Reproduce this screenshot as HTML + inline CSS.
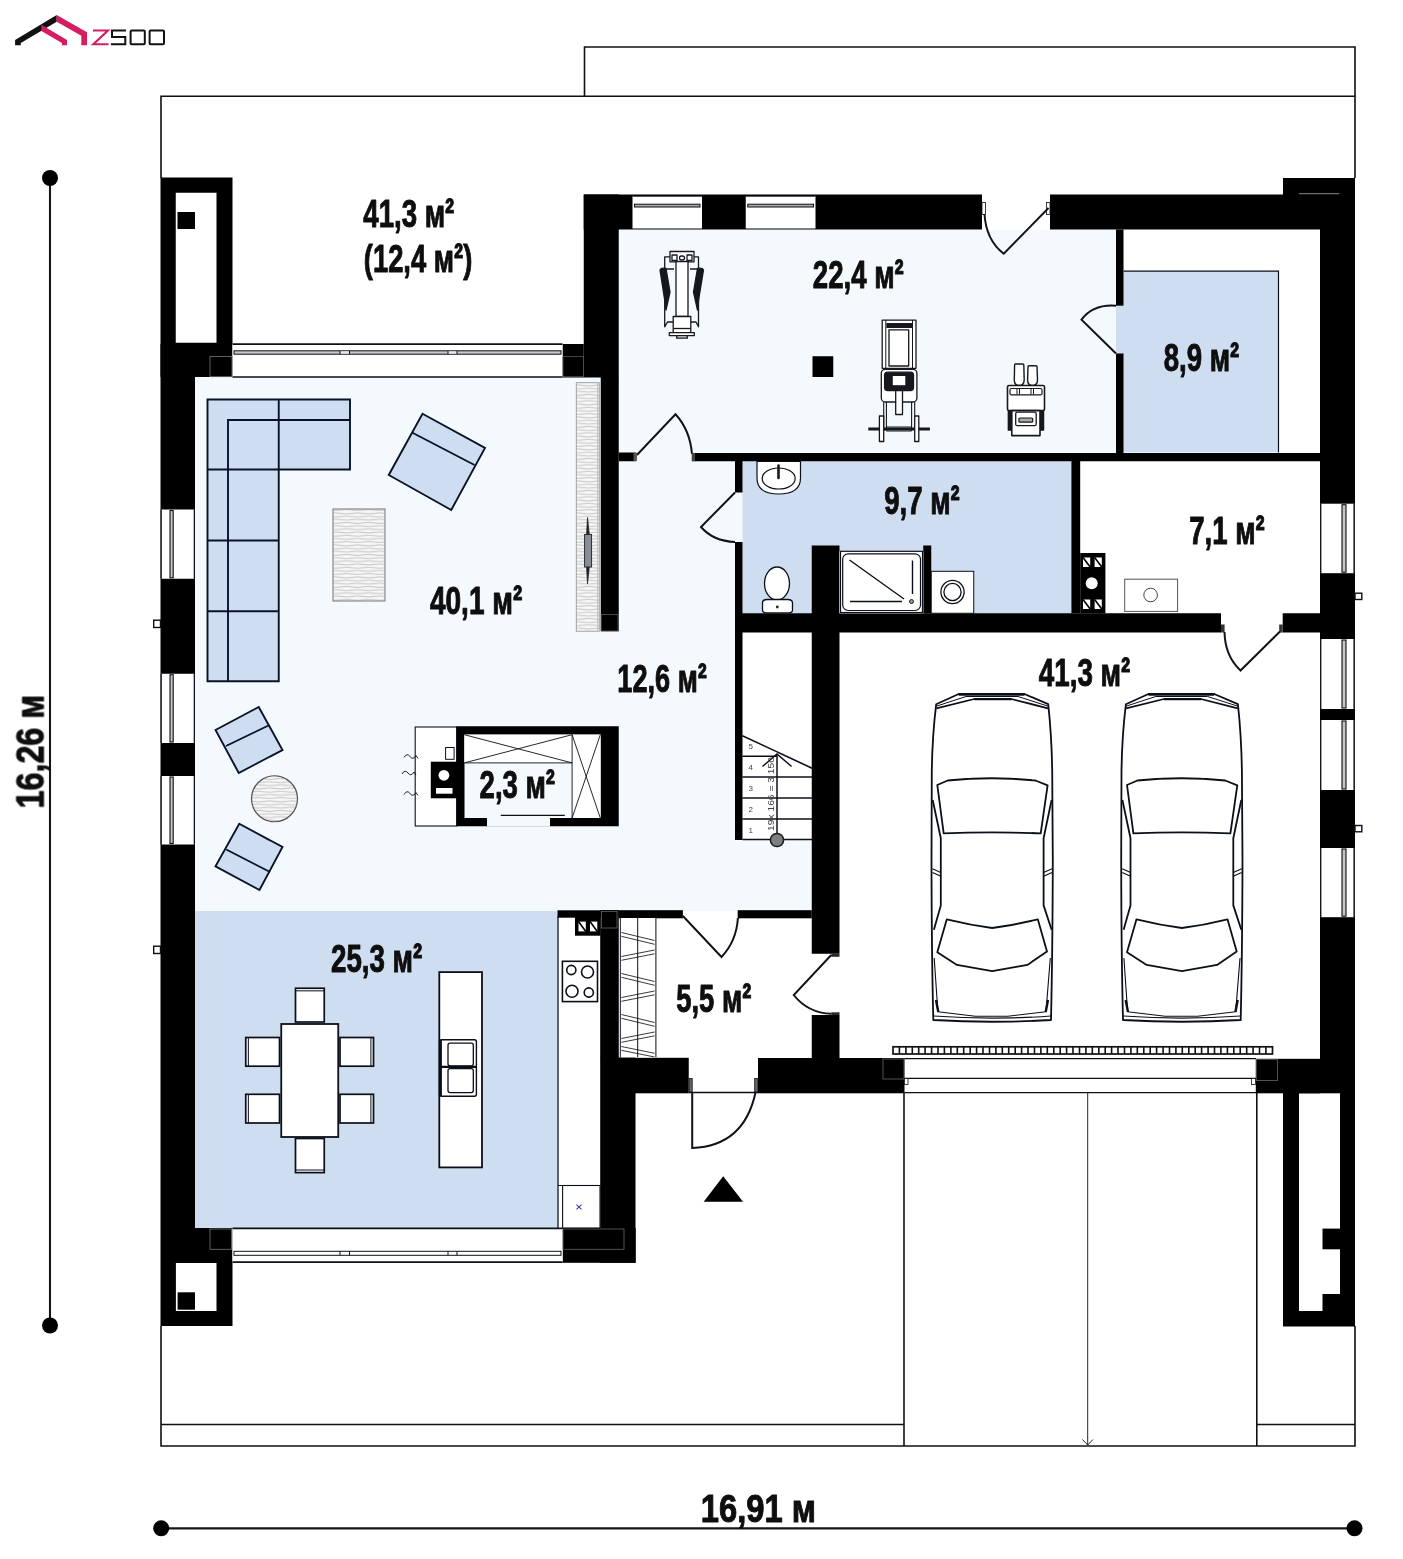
<!DOCTYPE html>
<html><head><meta charset="utf-8"><title>Plan</title>
<style>
html,body{margin:0;padding:0;background:#fff;}
body{width:1403px;height:1559px;overflow:hidden;font-family:"Liberation Sans",sans-serif;}
svg{display:block}
svg text{font-family:"Liberation Sans",sans-serif;font-weight:bold;fill:#0d0d0d}
</style></head><body>
<svg width="1403" height="1559" viewBox="0 0 1403 1559">
<g fill="none" stroke="#101010" stroke-width="1.6">
<path d="M161 178 V96.3 H1355 V178"/>
<path d="M584.5 96.3 V47 H1355 V96.3"/>
<path d="M161 1326 V1446 H1355 V1326"/>
<path d="M161 1424.5 H904"/>
<path d="M1256.8 1424.5 H1355"/>
<path d="M904 1092.5 V1446"/>
<path d="M1256.8 1093 V1446"/>
</g>
<line x1="1087.70" y1="1093.00" x2="1087.70" y2="1445.00" stroke="#0b0f1a" stroke-width="0.9" />
<path d="M1082.5 1439.5 L1087.7 1445 L1093 1439.5" fill="none" stroke="#0b0f1a" stroke-width="0.9"/>
<rect x="195.00" y="377.50" width="616.75" height="533.50" fill="#f4f9fd" />
<rect x="618.75" y="229.50" width="497.25" height="223.50" fill="#f4f9fd" />
<rect x="195.00" y="911.00" width="362.50" height="317.00" fill="#cedef0" />
<rect x="557.50" y="916.00" width="43.25" height="312.00" fill="#fff" />
<rect x="618.75" y="918.00" width="193.00" height="140.00" fill="#fff" />
<rect x="742.50" y="632.00" width="69.25" height="208.00" fill="#fff" />
<rect x="742.50" y="461.25" width="328.90" height="152.00" fill="#cedef0" />
<rect x="1116.00" y="271.20" width="162.50" height="181.20" fill="#cedef0" />
<path d="M1123.5 271.2 H1278.5 V452.4" fill="none" stroke="#0b0f1a" stroke-width="1.2"/>
<rect x="160.50" y="177.50" width="72.00" height="199.50" fill="#000" />
<rect x="175.75" y="192.75" width="40.75" height="150.00" fill="#fff" />
<rect x="177.50" y="212.00" width="17.50" height="17.00" fill="#000" />
<rect x="160.50" y="344.00" width="34.50" height="884.00" fill="#000" />
<rect x="160.50" y="1228.00" width="72.00" height="98.00" fill="#000" />
<rect x="175.90" y="1263.00" width="40.60" height="48.00" fill="#fff" />
<rect x="177.60" y="1292.30" width="17.40" height="17.40" fill="#000" />
<rect x="583.75" y="194.50" width="35.00" height="183.00" fill="#000" />
<rect x="562.50" y="344.00" width="21.25" height="33.50" fill="#000" />
<rect x="600.75" y="377.00" width="18.00" height="254.25" fill="#000" />
<rect x="583.75" y="194.50" width="771.25" height="35.00" fill="#000" />
<rect x="1283.00" y="178.00" width="72.00" height="17.00" fill="#000" />
<rect x="1320.00" y="194.50" width="35.00" height="898.80" fill="#000" />
<rect x="1283.00" y="1093.00" width="72.00" height="233.50" fill="#000" />
<rect x="1299.00" y="1093.30" width="41.00" height="217.70" fill="#fff" />
<rect x="1322.50" y="1228.60" width="21.90" height="20.70" fill="#000" />
<rect x="1322.50" y="1294.00" width="21.90" height="21.40" fill="#000" />
<rect x="632.50" y="196.00" width="69.50" height="32.50" fill="#fff" />
<rect x="745.75" y="196.00" width="69.75" height="32.50" fill="#fff" />
<rect x="982.00" y="194.00" width="68.00" height="36.00" fill="#fff" />
<rect x="1116.00" y="229.50" width="7.50" height="76.20" fill="#000" />
<rect x="1116.00" y="353.50" width="7.50" height="99.50" fill="#000" />
<rect x="692.50" y="453.00" width="627.50" height="8.25" fill="#000" />
<rect x="618.75" y="452.50" width="17.50" height="8.75" fill="#000" />
<rect x="735.00" y="461.00" width="7.50" height="31.50" fill="#000" />
<rect x="735.00" y="542.00" width="7.50" height="298.00" fill="#000" />
<rect x="735.00" y="613.25" width="486.00" height="19.25" fill="#000" />
<rect x="1282.70" y="613.25" width="37.30" height="19.25" fill="#000" />
<rect x="811.75" y="545.50" width="27.75" height="408.25" fill="#000" />
<rect x="811.75" y="1015.00" width="27.75" height="43.00" fill="#000" />
<rect x="923.25" y="545.50" width="8.00" height="67.75" fill="#000" />
<rect x="1071.40" y="461.00" width="8.80" height="152.25" fill="#000" />
<rect x="456.25" y="726.25" width="162.50" height="100.00" fill="#000" />
<rect x="464.50" y="734.50" width="136.25" height="83.50" fill="#f4f9fd" />
<rect x="487.00" y="817.50" width="63.00" height="9.00" fill="#f4f9fd" />
<rect x="557.50" y="910.30" width="61.25" height="7.40" fill="#000" />
<rect x="600.20" y="910.00" width="18.55" height="148.00" fill="#000" />
<rect x="600.20" y="1057.50" width="35.30" height="205.30" fill="#000" />
<rect x="618.75" y="1057.80" width="70.00" height="35.50" fill="#000" />
<rect x="562.60" y="1228.00" width="73.10" height="34.80" fill="#000" />
<rect x="618.75" y="910.20" width="64.15" height="8.10" fill="#000" />
<rect x="737.70" y="910.20" width="74.05" height="8.10" fill="#000" />
<rect x="758.00" y="1058.00" width="146.50" height="35.30" fill="#000" />
<rect x="1255.80" y="1058.80" width="64.20" height="34.50" fill="#000" />
<rect x="161.20" y="509.50" width="33.10" height="69.25" fill="#fff" />
<line x1="161.20" y1="509.50" x2="161.20" y2="578.75" stroke="#0b0f1a" stroke-width="1.2" />
<line x1="194.30" y1="509.50" x2="194.30" y2="578.75" stroke="#0b0f1a" stroke-width="1.2" />
<rect x="170.00" y="510.50" width="3.20" height="67.25" fill="#c4c4c4" stroke="#0b0f1a" stroke-width="1.1"/>
<rect x="161.20" y="673.75" width="33.10" height="69.25" fill="#fff" />
<line x1="161.20" y1="673.75" x2="161.20" y2="743.00" stroke="#0b0f1a" stroke-width="1.2" />
<line x1="194.30" y1="673.75" x2="194.30" y2="743.00" stroke="#0b0f1a" stroke-width="1.2" />
<rect x="170.00" y="674.75" width="3.20" height="67.25" fill="#c4c4c4" stroke="#0b0f1a" stroke-width="1.1"/>
<rect x="161.20" y="776.00" width="33.10" height="68.50" fill="#fff" />
<line x1="161.20" y1="776.00" x2="161.20" y2="844.50" stroke="#0b0f1a" stroke-width="1.2" />
<line x1="194.30" y1="776.00" x2="194.30" y2="844.50" stroke="#0b0f1a" stroke-width="1.2" />
<rect x="170.00" y="777.00" width="3.20" height="66.50" fill="#c4c4c4" stroke="#0b0f1a" stroke-width="1.1"/>
<rect x="1320.80" y="503.70" width="33.50" height="69.50" fill="#fff" />
<line x1="1320.80" y1="503.70" x2="1320.80" y2="573.20" stroke="#0b0f1a" stroke-width="1.2" />
<line x1="1354.00" y1="503.70" x2="1354.00" y2="573.20" stroke="#0b0f1a" stroke-width="1.2" />
<rect x="1342.00" y="504.70" width="4.00" height="67.50" fill="#c4c4c4" stroke="#0b0f1a" stroke-width="1.1"/>
<rect x="1320.80" y="639.00" width="33.50" height="70.00" fill="#fff" />
<line x1="1320.80" y1="639.00" x2="1320.80" y2="709.00" stroke="#0b0f1a" stroke-width="1.2" />
<line x1="1354.00" y1="639.00" x2="1354.00" y2="709.00" stroke="#0b0f1a" stroke-width="1.2" />
<rect x="1342.00" y="640.00" width="4.00" height="68.00" fill="#c4c4c4" stroke="#0b0f1a" stroke-width="1.1"/>
<rect x="1320.80" y="720.00" width="33.50" height="70.00" fill="#fff" />
<line x1="1320.80" y1="720.00" x2="1320.80" y2="790.00" stroke="#0b0f1a" stroke-width="1.2" />
<line x1="1354.00" y1="720.00" x2="1354.00" y2="790.00" stroke="#0b0f1a" stroke-width="1.2" />
<rect x="1342.00" y="721.00" width="4.00" height="68.00" fill="#c4c4c4" stroke="#0b0f1a" stroke-width="1.1"/>
<rect x="1320.80" y="848.00" width="33.50" height="69.20" fill="#fff" />
<line x1="1320.80" y1="848.00" x2="1320.80" y2="917.20" stroke="#0b0f1a" stroke-width="1.2" />
<line x1="1354.00" y1="848.00" x2="1354.00" y2="917.20" stroke="#0b0f1a" stroke-width="1.2" />
<rect x="1342.00" y="849.00" width="4.00" height="67.20" fill="#c4c4c4" stroke="#0b0f1a" stroke-width="1.1"/>
<rect x="153.70" y="620.20" width="6.80" height="7.30" fill="#fff" stroke="#0b0f1a" stroke-width="1.4"/>
<rect x="153.70" y="946.20" width="6.80" height="7.30" fill="#fff" stroke="#0b0f1a" stroke-width="1.4"/>
<rect x="1355.00" y="593.20" width="6.80" height="6.30" fill="#fff" stroke="#0b0f1a" stroke-width="1.4"/>
<rect x="1355.00" y="825.50" width="6.80" height="6.30" fill="#fff" stroke="#0b0f1a" stroke-width="1.4"/>
<rect x="232.50" y="344.00" width="330.00" height="33.00" fill="#fff" />
<line x1="232.50" y1="344.20" x2="562.50" y2="344.20" stroke="#0b0f1a" stroke-width="1.8" />
<rect x="234.00" y="350.80" width="327.00" height="3.40" fill="#c8c8c8" stroke="#0b0f1a" stroke-width="1"/>
<rect x="340.00" y="351.30" width="9.50" height="2.40" fill="#e8e8e8" />
<rect x="448.00" y="351.30" width="9.00" height="2.40" fill="#e8e8e8" />
<line x1="340.00" y1="351.00" x2="340.00" y2="354.00" stroke="#0b0f1a" stroke-width="1" />
<line x1="349.50" y1="351.00" x2="349.50" y2="354.00" stroke="#0b0f1a" stroke-width="1" />
<line x1="448.00" y1="351.00" x2="448.00" y2="354.00" stroke="#0b0f1a" stroke-width="1" />
<line x1="457.00" y1="351.00" x2="457.00" y2="354.00" stroke="#0b0f1a" stroke-width="1" />
<line x1="232.50" y1="377.00" x2="562.50" y2="377.00" stroke="#0b0f1a" stroke-width="1.7" />
<rect x="210.00" y="356.50" width="22.00" height="20.20" fill="none" stroke="#777" stroke-width="0.8"/>
<rect x="563.00" y="356.50" width="20.50" height="20.20" fill="none" stroke="#555" stroke-width="0.8"/>
<rect x="232.50" y="1228.00" width="330.10" height="34.80" fill="#fff" />
<line x1="232.50" y1="1228.30" x2="562.60" y2="1228.30" stroke="#0b0f1a" stroke-width="1.7" />
<rect x="234.00" y="1251.30" width="327.00" height="4.00" fill="#fff" stroke="#0b0f1a" stroke-width="1"/>
<line x1="340.00" y1="1251.30" x2="340.00" y2="1255.30" stroke="#0b0f1a" stroke-width="1" />
<line x1="349.50" y1="1251.30" x2="349.50" y2="1255.30" stroke="#0b0f1a" stroke-width="1" />
<line x1="448.00" y1="1251.30" x2="448.00" y2="1255.30" stroke="#0b0f1a" stroke-width="1" />
<line x1="457.00" y1="1251.30" x2="457.00" y2="1255.30" stroke="#0b0f1a" stroke-width="1" />
<line x1="232.50" y1="1262.20" x2="562.60" y2="1262.20" stroke="#0b0f1a" stroke-width="1.7" />
<rect x="210.00" y="1229.00" width="21.50" height="20.30" fill="none" stroke="#777" stroke-width="0.8"/>
<rect x="563.00" y="1229.00" width="61.00" height="20.30" fill="none" stroke="#666" stroke-width="0.8"/>
<line x1="632.50" y1="196.20" x2="702.00" y2="196.20" stroke="#0b0f1a" stroke-width="1" />
<rect x="634.50" y="204.20" width="65.50" height="2.80" fill="#aaa" stroke="#0b0f1a" stroke-width="1"/>
<line x1="745.75" y1="196.20" x2="815.50" y2="196.20" stroke="#0b0f1a" stroke-width="1" />
<rect x="747.75" y="204.20" width="65.75" height="2.80" fill="#aaa" stroke="#0b0f1a" stroke-width="1"/>
<line x1="50.00" y1="178.00" x2="50.00" y2="1325.50" stroke="#161616" stroke-width="2.1" />
<circle cx="50" cy="178" r="8" fill="#000"/><circle cx="50" cy="1325.5" r="8" fill="#000"/>
<line x1="161.00" y1="1528.40" x2="1354.50" y2="1528.40" stroke="#161616" stroke-width="2.1" />
<circle cx="161.2" cy="1528.3" r="8" fill="#000"/><circle cx="1354.5" cy="1528.3" r="8" fill="#000"/>
<polygon points="723.2,1176.2 703.7,1201.7 743,1201.7" fill="#000"/>
<g opacity="0.995" stroke="#0d0d0d" stroke-width="1.0" stroke-linejoin="round">
<text x="363.30" y="227.20" font-size="39.6" textLength="91.00" lengthAdjust="spacingAndGlyphs" >41,3 м²</text>
<text x="363.80" y="272.30" font-size="39.6" textLength="108.50" lengthAdjust="spacingAndGlyphs" >(12,4 м²)</text>
<text x="812.80" y="287.90" font-size="39.6" textLength="91.00" lengthAdjust="spacingAndGlyphs" >22,4 м²</text>
<text x="1163.80" y="371.40" font-size="39.6" textLength="75.50" lengthAdjust="spacingAndGlyphs" >8,9 м²</text>
<text x="430.00" y="614.00" font-size="39.6" textLength="92.20" lengthAdjust="spacingAndGlyphs" >40,1 м²</text>
<text x="617.30" y="692.40" font-size="39.6" textLength="89.50" lengthAdjust="spacingAndGlyphs" >12,6 м²</text>
<text x="884.30" y="513.90" font-size="39.6" textLength="75.50" lengthAdjust="spacingAndGlyphs" >9,7 м²</text>
<text x="1189.30" y="543.90" font-size="39.6" textLength="75.50" lengthAdjust="spacingAndGlyphs" >7,1 м²</text>
<text x="1038.80" y="685.90" font-size="39.6" textLength="91.50" lengthAdjust="spacingAndGlyphs" >41,3 м²</text>
<text x="331.10" y="971.60" font-size="39.6" textLength="91.20" lengthAdjust="spacingAndGlyphs" >25,3 м²</text>
<text x="676.30" y="1012.40" font-size="39.6" textLength="75.00" lengthAdjust="spacingAndGlyphs" >5,5 м²</text>
<text x="479.60" y="798.30" font-size="39.6" textLength="75.40" lengthAdjust="spacingAndGlyphs" >2,3 м²</text>
<text x="700.80" y="1522.40" font-size="39.6" textLength="115.20" lengthAdjust="spacingAndGlyphs" >16,91 м</text>
<text transform="translate(43.5,808.5) rotate(-90)" font-size="39.6" textLength="113.7" lengthAdjust="spacingAndGlyphs">16,26 м</text>
</g>
<path d="M207.5 399.5 H350 V469.5 H278.75 V681.25 H207.5 Z" fill="#cedef0" stroke="#0a1228" stroke-width="1.9"/>
<path d="M228 681.25 V420 H350 M278.75 399.5 V469.5 M207.5 469.5 H278.75 M207.5 540.5 H278.75 M207.5 611.25 H278.75" fill="none" stroke="#0a1228" stroke-width="1.9"/>
<polygon points="422.50,413.75 485.00,448.00 451.25,510.00 388.75,475.00" fill="#cedef0" stroke="#0a1228" stroke-width="1.9" stroke-linejoin="miter" />
<line x1="412.00" y1="432.50" x2="474.50" y2="465.00" stroke="#0a1228" stroke-width="1.9" />
<polygon points="215.50,730.00 258.75,707.00 282.50,750.00 238.75,773.00" fill="#cedef0" stroke="#0a1228" stroke-width="1.9" stroke-linejoin="miter" />
<line x1="226.00" y1="746.00" x2="269.50" y2="725.00" stroke="#0a1228" stroke-width="1.9" />
<polygon points="239.25,823.75 282.50,847.00 259.50,890.00 215.50,866.25" fill="#cedef0" stroke="#0a1228" stroke-width="1.9" stroke-linejoin="miter" />
<line x1="226.25" y1="849.50" x2="270.00" y2="872.00" stroke="#0a1228" stroke-width="1.9" />
<defs><pattern id="hz" width="22" height="6.4" patternUnits="userSpaceOnUse"><rect width="22" height="6.4" fill="#f6f6f6"/><path d="M0 1.3 Q5.5 0.3 11 1.3 T22 1.3 M0 4.5 Q5.5 5.4 11 4.5 T22 4.5" stroke="#bdbdbd" stroke-width="0.9" fill="none"/></pattern></defs>
<rect x="333" y="509" width="52" height="92" fill="url(#hz)" stroke="#8a8a8a" stroke-width="1.2"/>
<circle cx="274.5" cy="798.75" r="23" fill="url(#hz)" stroke="#555" stroke-width="1.2"/>
<rect x="576.3" y="382.7" width="23" height="248.5" fill="url(#hz)" stroke="#9a9a9a" stroke-width="0.9"/>
<line x1="597.60" y1="383.00" x2="597.60" y2="631.00" stroke="#aaa" stroke-width="0.6" />
<path d="M587.5 517.5 L589.3 534.5 L589.3 567 L587.5 583.75 L586.6 567 L586.6 534.5 Z" fill="#222" stroke="#222" stroke-width="0.8"/>
<rect x="584.6" y="534.5" width="7" height="32.5" fill="#8a8d96" stroke="#222" stroke-width="0.9"/>
<rect x="601.2" y="614.5" width="16.8" height="16.5" fill="#000" stroke="#666" stroke-width="0.7"/>
<rect x="415.20" y="727.00" width="41.40" height="99.00" rx="0" fill="#fff" stroke="#0b0f1a" stroke-width="1.1"/>
<rect x="464.30" y="734.70" width="107.80" height="28.20" fill="#fff" />
<rect x="572.10" y="734.70" width="28.20" height="83.30" fill="#fff" />
<path d="M464.3 734.7 L572.1 762.9 M464.3 762.9 L572.1 734.7 M464.3 762.9 H572.1 M572.1 734.7 V818 M572.1 734.7 L600.3 818 M600.3 734.7 L572.1 818" fill="none" stroke="#0b0f1a" stroke-width="0.9"/>
<line x1="500.80" y1="815.30" x2="564.80" y2="815.30" stroke="#0b0f1a" stroke-width="1.3" />
<rect x="430.80" y="761.70" width="26.20" height="36.60" fill="#000" />
<circle cx="443.9" cy="775.3" r="5.4" fill="#fff"/>
<rect x="436.00" y="788.00" width="16.50" height="5.70" fill="#fff" />
<rect x="445.60" y="747.50" width="8.50" height="11.80" rx="0" fill="#fff" stroke="#0b0f1a" stroke-width="1"/>
<path d="M404 757.5 q3 -5 6 -1 t6 -1 l2 3" fill="none" stroke="#0b0f1a" stroke-width="0.9"/>
<path d="M402 774 q3 -5 6 -1 t6 -1 l2 3" fill="none" stroke="#0b0f1a" stroke-width="0.9"/>
<path d="M404 794.5 q3 -5 6 -1 t6 -1 l2 3" fill="none" stroke="#0b0f1a" stroke-width="0.9"/>
<rect x="281.25" y="1024.00" width="57.00" height="113.00" rx="0" fill="#fff" stroke="#0b0f1a" stroke-width="1.8"/>
<rect x="295.50" y="988.25" width="28.75" height="33.75" rx="0" fill="#fff" stroke="#0b0f1a" stroke-width="1.7"/>
<line x1="295.50" y1="990.85" x2="324.25" y2="990.85" stroke="#0b0f1a" stroke-width="1" />
<rect x="295.50" y="1138.50" width="28.75" height="34.10" rx="0" fill="#fff" stroke="#0b0f1a" stroke-width="1.7"/>
<line x1="295.50" y1="1170.00" x2="324.25" y2="1170.00" stroke="#0b0f1a" stroke-width="1" />
<rect x="245.75" y="1037.50" width="33.75" height="28.70" rx="0" fill="#fff" stroke="#0b0f1a" stroke-width="1.7"/>
<line x1="248.35" y1="1037.50" x2="248.35" y2="1066.20" stroke="#0b0f1a" stroke-width="1" />
<rect x="245.75" y="1094.30" width="33.75" height="28.70" rx="0" fill="#fff" stroke="#0b0f1a" stroke-width="1.7"/>
<line x1="248.35" y1="1094.30" x2="248.35" y2="1123.00" stroke="#0b0f1a" stroke-width="1" />
<rect x="340.00" y="1037.50" width="33.50" height="28.70" rx="0" fill="#fff" stroke="#0b0f1a" stroke-width="1.7"/>
<line x1="370.90" y1="1037.50" x2="370.90" y2="1066.20" stroke="#0b0f1a" stroke-width="1" />
<rect x="340.00" y="1094.30" width="33.50" height="28.70" rx="0" fill="#fff" stroke="#0b0f1a" stroke-width="1.7"/>
<line x1="370.90" y1="1094.30" x2="370.90" y2="1123.00" stroke="#0b0f1a" stroke-width="1" />
<rect x="439.30" y="972.10" width="42.70" height="195.30" rx="0" fill="#fff" stroke="#0b0f1a" stroke-width="1.8"/>
<rect x="439.50" y="1039.70" width="36.90" height="56.50" rx="2" fill="#fff" stroke="#0b0f1a" stroke-width="1.4"/>
<rect x="448.00" y="1043.20" width="25.30" height="22.60" rx="2" fill="#fff" stroke="#0b0f1a" stroke-width="1.3"/>
<rect x="448.00" y="1068.60" width="25.30" height="24.00" rx="2" fill="#fff" stroke="#0b0f1a" stroke-width="1.3"/>
<line x1="439.50" y1="1066.80" x2="476.40" y2="1066.80" stroke="#0b0f1a" stroke-width="2.2" />
<line x1="440.60" y1="1040.00" x2="440.60" y2="1096.00" stroke="#0b0f1a" stroke-width="2.6" />
<line x1="558.00" y1="916.00" x2="558.00" y2="1228.00" stroke="#0b0f1a" stroke-width="1.3" />
<rect x="562.40" y="961.30" width="35.10" height="40.30" rx="0" fill="#fff" stroke="#0b0f1a" stroke-width="1.6"/>
<circle cx="571.3" cy="970" r="4.6" fill="none" stroke="#0b0f1a" stroke-width="1.6"/>
<circle cx="587.5" cy="972" r="6" fill="none" stroke="#0b0f1a" stroke-width="1.6"/>
<circle cx="572" cy="991.3" r="6" fill="none" stroke="#0b0f1a" stroke-width="1.6"/>
<circle cx="588.8" cy="992.5" r="4.6" fill="none" stroke="#0b0f1a" stroke-width="1.6"/>
<rect x="575.00" y="917.00" width="25.50" height="18.70" fill="#000" />
<rect x="578.50" y="921.60" width="7.30" height="9.80" fill="#fff" />
<line x1="578.50" y1="921.60" x2="585.80" y2="931.40" stroke="#000" stroke-width="1.6" />
<rect x="590.00" y="921.60" width="7.30" height="9.80" fill="#fff" />
<line x1="590.00" y1="921.60" x2="597.30" y2="931.40" stroke="#000" stroke-width="1.6" />
<rect x="601.3" y="911.3" width="15.7" height="16.7" fill="#000" stroke="#777" stroke-width="0.7"/>
<rect x="562.60" y="1185.50" width="37.40" height="42.50" rx="0" fill="#fff" stroke="#0b0f1a" stroke-width="1.1"/>
<line x1="558.00" y1="1185.50" x2="600.00" y2="1185.50" stroke="#0b0f1a" stroke-width="1.1" />
<path d="M576.5 1204.7 L581.5 1209.3 M581.5 1204.7 L576.5 1209.3" stroke="#3443a0" stroke-width="1.1" fill="none"/>
<rect x="620.30" y="918.00" width="35.60" height="139.20" fill="#fff" />
<line x1="621.40" y1="932.50" x2="654.60" y2="940.50" stroke="#3a3a3a" stroke-width="1" />
<line x1="621.40" y1="956.50" x2="654.60" y2="950.00" stroke="#3a3a3a" stroke-width="1" />
<line x1="621.40" y1="936.30" x2="654.60" y2="944.30" stroke="#3a3a3a" stroke-width="1" />
<line x1="621.40" y1="960.30" x2="654.60" y2="953.80" stroke="#3a3a3a" stroke-width="1" />
<line x1="621.40" y1="973.50" x2="654.60" y2="981.50" stroke="#3a3a3a" stroke-width="1" />
<line x1="621.40" y1="997.50" x2="654.60" y2="991.00" stroke="#3a3a3a" stroke-width="1" />
<line x1="621.40" y1="977.30" x2="654.60" y2="985.30" stroke="#3a3a3a" stroke-width="1" />
<line x1="621.40" y1="1001.30" x2="654.60" y2="994.80" stroke="#3a3a3a" stroke-width="1" />
<line x1="621.40" y1="1014.50" x2="654.60" y2="1022.50" stroke="#3a3a3a" stroke-width="1" />
<line x1="621.40" y1="1038.50" x2="654.60" y2="1032.00" stroke="#3a3a3a" stroke-width="1" />
<line x1="621.40" y1="1018.30" x2="654.60" y2="1026.30" stroke="#3a3a3a" stroke-width="1" />
<line x1="621.40" y1="1042.30" x2="654.60" y2="1035.80" stroke="#3a3a3a" stroke-width="1" />
<line x1="621.40" y1="1046.50" x2="654.60" y2="1053.30" stroke="#3a3a3a" stroke-width="1" />
<line x1="621.40" y1="1050.30" x2="654.60" y2="1057.00" stroke="#3a3a3a" stroke-width="1" />
<path d="M620.3 918 V1057.2 M637.7 918 V1057.2 M655.9 918 V1057.2" stroke="#0b0f1a" stroke-width="1" fill="none"/>
<path d="M757 461.5 V478 Q757 494 778.7 494 Q800.5 494 800.5 478 V461.5 Z" fill="#fff" stroke="#0b0f1a" stroke-width="1.2"/>
<ellipse cx="778.7" cy="478.5" rx="16.5" ry="10.5" fill="#fff" stroke="#0b0f1a" stroke-width="1.2"/>
<line x1="778.50" y1="465.50" x2="778.50" y2="478.00" stroke="#1a1a1a" stroke-width="2.6" stroke-linecap="round"/>
<ellipse cx="777" cy="583.5" rx="12.5" ry="16.5" fill="#fff" stroke="#0b0f1a" stroke-width="1.3"/>
<path d="M762.5 603 Q762.5 599.5 767 599.5 H787.5 Q792.5 599.5 792.5 603 V610 Q792.5 612.8 789 612.8 H766 Q762.5 612.8 762.5 610 Z" fill="#fff" stroke="#0b0f1a" stroke-width="1.3"/>
<circle cx="777.3" cy="607" r="1.4" fill="#222"/>
<rect x="839.50" y="551.30" width="83.75" height="61.95" fill="#fff" />
<rect x="840.50" y="551.30" width="82.00" height="61.20" rx="0" fill="#fff" stroke="#0b0f1a" stroke-width="1.2"/>
<rect x="842.70" y="553.80" width="77.80" height="56.70" rx="5.5" fill="#fff" stroke="#0b0f1a" stroke-width="1.2"/>
<path d="M849.5 560 L904 599 M912.5 560.5 V594 M850 601.5 H902" stroke="#0b0f1a" stroke-width="1.4" fill="none"/>
<circle cx="911.5" cy="601.5" r="2" fill="#999" stroke="#0b0f1a" stroke-width="0.9"/>
<rect x="931.25" y="571.30" width="42.50" height="41.95" rx="0" fill="#fff" stroke="#0b0f1a" stroke-width="1"/>
<circle cx="952.5" cy="592" r="11.6" fill="#fff" stroke="#0b0f1a" stroke-width="1.3"/><circle cx="952.5" cy="592" r="8.6" fill="#fff" stroke="#0b0f1a" stroke-width="1.3"/>
<rect x="1080.20" y="553.00" width="25.20" height="60.40" fill="#000" />
<circle cx="1091.7" cy="583.2" r="6" fill="#fff"/>
<rect x="1083.00" y="557.50" width="7.20" height="9.50" fill="#fff" />
<line x1="1083.00" y1="557.50" x2="1090.20" y2="567.00" stroke="#000" stroke-width="1.6" />
<rect x="1094.60" y="557.50" width="7.20" height="9.50" fill="#fff" />
<line x1="1094.60" y1="557.50" x2="1101.80" y2="567.00" stroke="#000" stroke-width="1.6" />
<rect x="1083.00" y="599.50" width="7.20" height="9.50" fill="#fff" />
<line x1="1083.00" y1="599.50" x2="1090.20" y2="609.00" stroke="#000" stroke-width="1.6" />
<rect x="1094.60" y="599.50" width="7.20" height="9.50" fill="#fff" />
<line x1="1094.60" y1="599.50" x2="1101.80" y2="609.00" stroke="#000" stroke-width="1.6" />
<rect x="1124.70" y="579.20" width="52.90" height="32.20" rx="0" fill="#fff" stroke="#555" stroke-width="1"/>
<circle cx="1150.6" cy="595" r="6.8" fill="#fff" stroke="#444" stroke-width="1"/>
<line x1="742.40" y1="777.00" x2="812.00" y2="777.00" stroke="#0b0f1a" stroke-width="1.5" />
<line x1="742.40" y1="798.10" x2="812.00" y2="798.10" stroke="#0b0f1a" stroke-width="1.5" />
<line x1="742.40" y1="819.10" x2="812.00" y2="819.10" stroke="#0b0f1a" stroke-width="1.5" />
<line x1="742.40" y1="839.60" x2="812.00" y2="839.60" stroke="#0b0f1a" stroke-width="1.5" />
<line x1="742.40" y1="756.20" x2="777.00" y2="756.20" stroke="#0b0f1a" stroke-width="1.5" />
<line x1="742.40" y1="735.70" x2="812.10" y2="768.20" stroke="#0b0f1a" stroke-width="1.5" />
<line x1="777.00" y1="754.00" x2="777.00" y2="834.00" stroke="#0b0f1a" stroke-width="1.5" />
<path d="M762.5 766.5 L777 754 L791.6 766.5" fill="none" stroke="#0b0f1a" stroke-width="1.5"/>
<circle cx="777" cy="840" r="6.6" fill="#7f7f7f" stroke="#1a1a1a" stroke-width="1.5"/>
<text x="748.5" y="832.5" font-size="8" style="font-weight:normal;fill:#444">1</text>
<text x="748.5" y="812" font-size="8" style="font-weight:normal;fill:#444">2</text>
<text x="748.5" y="791" font-size="8" style="font-weight:normal;fill:#444">3</text>
<text x="748.5" y="770.3" font-size="8" style="font-weight:normal;fill:#444">4</text>
<text x="748.5" y="749" font-size="8" style="font-weight:normal;fill:#444">5</text>
<text transform="translate(774,831) rotate(-90)" font-size="8.5" textLength="74" lengthAdjust="spacingAndGlyphs" style="font-weight:normal;fill:#444">19x 166 = 3 150</text>
<path d="M636.9 455 L675.5 414.2 Q690 430 692 454" fill="none" stroke="#10131c" stroke-width="2"/>
<rect x="633.50" y="453.00" width="3.40" height="8.00" fill="#555" />
<rect x="691.70" y="453.00" width="3.30" height="8.20" fill="#444" />
<rect x="982.00" y="202.50" width="3.50" height="12.00" fill="#fff" stroke="#0b0f1a" stroke-width="0.8"/>
<rect x="1046.50" y="202.50" width="3.50" height="12.00" fill="#fff" stroke="#0b0f1a" stroke-width="0.8"/>
<path d="M984.5 214 Q986 240 1003.75 253.75 L1048.5 208" fill="none" stroke="#10131c" stroke-width="2"/>
<path d="M1116 305.7 Q1093 304 1081.5 319.7 L1116 353.5" fill="none" stroke="#10131c" stroke-width="2"/>
<path d="M735 492.5 L701 527 Q713 541 735 542" fill="none" stroke="#10131c" stroke-width="2"/>
<rect x="1221.00" y="624.50" width="3.60" height="8.00" fill="#333" />
<rect x="1279.20" y="624.50" width="3.50" height="8.00" fill="#333" />
<path d="M1224.5 632 Q1225 656 1240.5 670.5 L1280 631.5" fill="none" stroke="#10131c" stroke-width="2"/>
<path d="M682.9 916 L721.5 957 Q736.5 941 737.9 918" fill="none" stroke="#10131c" stroke-width="2"/>
<path d="M831.25 955 L793.75 995 Q808 1013 831.25 1013.75" fill="none" stroke="#10131c" stroke-width="2"/>
<rect x="831.25" y="953.75" width="8.25" height="3.05" fill="#2a2a2a" />
<rect x="831.25" y="1012.30" width="8.25" height="2.90" fill="#2a2a2a" />
<line x1="688.75" y1="1092.40" x2="758.00" y2="1092.40" stroke="#0b0f1a" stroke-width="1.5" />
<path d="M692.2 1092.5 V1148 Q744 1146 755.5 1092.5" fill="none" stroke="#10131c" stroke-width="2"/>
<rect x="754.70" y="1078.50" width="3.10" height="13.50" fill="#666" stroke="#0b0f1a" stroke-width="0.8"/>
<rect x="689.20" y="1078.50" width="3.00" height="13.50" fill="#666" stroke="#0b0f1a" stroke-width="0.8"/>
<path d="M904.5 1058.6 H1256 M904.5 1078.4 H1256 M904.5 1092.6 H1256" stroke="#0b0f1a" stroke-width="1.4" fill="none"/>
<rect x="893" y="1046.8" width="379.5" height="7.2" fill="#fff" stroke="#111" stroke-width="1.7"/>
<path d="M899.4 1046.8 V1054 M905.9 1046.8 V1054 M912.3 1046.8 V1054 M918.7 1046.8 V1054 M925.1 1046.8 V1054 M931.6 1046.8 V1054 M938.0 1046.8 V1054 M944.4 1046.8 V1054 M950.9 1046.8 V1054 M957.3 1046.8 V1054 M963.7 1046.8 V1054 M970.2 1046.8 V1054 M976.6 1046.8 V1054 M983.0 1046.8 V1054 M989.5 1046.8 V1054 M995.9 1046.8 V1054 M1002.3 1046.8 V1054 M1008.7 1046.8 V1054 M1015.2 1046.8 V1054 M1021.6 1046.8 V1054 M1028.0 1046.8 V1054 M1034.5 1046.8 V1054 M1040.9 1046.8 V1054 M1047.3 1046.8 V1054 M1053.8 1046.8 V1054 M1060.2 1046.8 V1054 M1066.6 1046.8 V1054 M1073.0 1046.8 V1054 M1079.5 1046.8 V1054 M1085.9 1046.8 V1054 M1092.3 1046.8 V1054 M1098.8 1046.8 V1054 M1105.2 1046.8 V1054 M1111.6 1046.8 V1054 M1118.0 1046.8 V1054 M1124.5 1046.8 V1054 M1130.9 1046.8 V1054 M1137.3 1046.8 V1054 M1143.8 1046.8 V1054 M1150.2 1046.8 V1054 M1156.6 1046.8 V1054 M1163.1 1046.8 V1054 M1169.5 1046.8 V1054 M1175.9 1046.8 V1054 M1182.3 1046.8 V1054 M1188.8 1046.8 V1054 M1195.2 1046.8 V1054 M1201.6 1046.8 V1054 M1208.1 1046.8 V1054 M1214.5 1046.8 V1054 M1220.9 1046.8 V1054 M1227.4 1046.8 V1054 M1233.8 1046.8 V1054 M1240.2 1046.8 V1054 M1246.7 1046.8 V1054 M1253.1 1046.8 V1054 M1259.5 1046.8 V1054 M1265.9 1046.8 V1054" stroke="#111" stroke-width="1.6" fill="none"/>
<rect x="883" y="1059" width="21" height="20" fill="none" stroke="#666" stroke-width="0.8"/>
<rect x="1256.3" y="1059.3" width="21.2" height="21.3" fill="none" stroke="#666" stroke-width="0.8"/>
<rect x="904.50" y="1078.50" width="3.50" height="6.00" fill="#fff" stroke="#0b0f1a" stroke-width="0.8"/>
<rect x="1251.50" y="1078.50" width="4.00" height="6.00" fill="#fff" stroke="#0b0f1a" stroke-width="0.8"/>
<line x1="1299.00" y1="193.70" x2="1339.40" y2="193.70" stroke="#999" stroke-width="0.9" />
<g transform="translate(0,0)" fill="none" stroke="#0b0f1a" stroke-width="1.8" stroke-linejoin="round">
<path d="M958.7 694 H1024.5 L1048.2 704.2 Q1051.6 735 1052.2 770 L1052.8 860 Q1052.6 950 1051 1020 Q992 1023.5 933.3 1020 Q931.6 950 931.5 860 L931.8 770 Q932.4 735 936.2 704.2 Z" fill="#fff"/>
<path d="M936.4 708.3 L974.3 699 H1011.2 L1048 708.3"/>
<path d="M936.3 706.2 L966 696.5 H1018 L1048.1 706.2" stroke-width="1"/>
<path d="M958.7 694.5 H1024.5" stroke-width="2.6"/><path d="M974.3 699.2 H1011.2" stroke-width="2.2"/>
<path d="M937.3 785 L947.7 780.5 Q991.6 776 1035.5 780.5 L1047.6 785.3 L1040.7 833.3 Q991.6 831.5 943.7 833.3 Z"/>
<path d="M932.7 800 L940.8 838.2 V905.4 L933.9 929.7"/>
<path d="M1051.6 800 L1043.6 838.2 V905.4 L1051.6 929.7"/>
<path d="M932.5 868.8 L940.8 872.5 M932.5 872.5 L940.8 876.2 M1052 868.8 L1043.6 872.5 M1052 872.5 L1043.6 876.2" stroke-width="1.1"/>
<path d="M946.8 919.3 Q970 925 992.2 928 Q1015 925 1037.8 919.3 L1047 951.6 L1027.4 964.9 L992.2 971.2 L957 964.9 L937.3 952.2 Z"/>
<path d="M934.2 958 L937.9 1011.7 L975.4 1016.3 H1007.8 L1046 1011.7 L1050.3 958" stroke-width="1.1"/>
<path d="M933.6 1016 Q992 1020.3 1051 1016" stroke-width="1.1"/>
<path d="M936 1000 L938.3 1012 M1048 1000 L1045.7 1012" stroke-width="2.4"/>
</g>
<g transform="translate(189.7,0)" fill="none" stroke="#0b0f1a" stroke-width="1.8" stroke-linejoin="round">
<path d="M958.7 694 H1024.5 L1048.2 704.2 Q1051.6 735 1052.2 770 L1052.8 860 Q1052.6 950 1051 1020 Q992 1023.5 933.3 1020 Q931.6 950 931.5 860 L931.8 770 Q932.4 735 936.2 704.2 Z" fill="#fff"/>
<path d="M936.4 708.3 L974.3 699 H1011.2 L1048 708.3"/>
<path d="M936.3 706.2 L966 696.5 H1018 L1048.1 706.2" stroke-width="1"/>
<path d="M958.7 694.5 H1024.5" stroke-width="2.6"/><path d="M974.3 699.2 H1011.2" stroke-width="2.2"/>
<path d="M937.3 785 L947.7 780.5 Q991.6 776 1035.5 780.5 L1047.6 785.3 L1040.7 833.3 Q991.6 831.5 943.7 833.3 Z"/>
<path d="M932.7 800 L940.8 838.2 V905.4 L933.9 929.7"/>
<path d="M1051.6 800 L1043.6 838.2 V905.4 L1051.6 929.7"/>
<path d="M932.5 868.8 L940.8 872.5 M932.5 872.5 L940.8 876.2 M1052 868.8 L1043.6 872.5 M1052 872.5 L1043.6 876.2" stroke-width="1.1"/>
<path d="M946.8 919.3 Q970 925 992.2 928 Q1015 925 1037.8 919.3 L1047 951.6 L1027.4 964.9 L992.2 971.2 L957 964.9 L937.3 952.2 Z"/>
<path d="M934.2 958 L937.9 1011.7 L975.4 1016.3 H1007.8 L1046 1011.7 L1050.3 958" stroke-width="1.1"/>
<path d="M933.6 1016 Q992 1020.3 1051 1016" stroke-width="1.1"/>
<path d="M936 1000 L938.3 1012 M1048 1000 L1045.7 1012" stroke-width="2.4"/>
</g>
<g fill="none" stroke="#16181f" stroke-width="1.3" stroke-linejoin="round">
<rect x="670" y="251.5" width="24" height="10.3" fill="#fff"/>
<rect x="672" y="255" width="5" height="5.5" /><rect x="687" y="255" width="5" height="5.5"/><rect x="679.5" y="256" width="5" height="4" rx="2"/>
<path d="M670 256.8 H664.7 V326.8 L667.5 322 H673 M694 256.8 H698.5 V326.8 L696 322 H691"/>
<rect x="676" y="261.5" width="12" height="55" fill="#fff"/>
<path d="M660 270 Q661 267.5 666 268.5 L670 292 L666 310 L664.7 300 Z" fill="#16181f"/>
<path d="M703.5 270 Q702.5 267.5 697.5 268.5 L693.5 292 L697.5 310 L698.6 300 Z" fill="#16181f"/>
<path d="M666 269 H674 M698 269 H690" stroke-width="1.6"/>
<rect x="673.2" y="316.5" width="17.6" height="16.5" fill="#fff"/><path d="M673.2 328.5 H690.8"/>
<rect x="669.3" y="332.6" width="25" height="3" fill="#fff"/><rect x="676.7" y="335.6" width="10.6" height="2.6" fill="#ddd"/>
<rect x="882.2" y="320.2" width="33.8" height="48.1" fill="#fff"/>
<path d="M885.8 320.2 V368.3 M912.5 320.2 V368.3" stroke-width="1"/>
<rect x="887" y="323.6" width="25" height="3.8" fill="#16181f"/>
<rect x="889" y="329.8" width="19.7" height="36.2" fill="#fff"/>
<rect x="881.3" y="369.3" width="35.6" height="32.7" rx="4" fill="#fff"/>
<rect x="884.6" y="372.2" width="28.9" height="18.3" rx="3" fill="#16181f"/>
<rect x="892.8" y="376" width="12.5" height="9.2" fill="#fff" stroke="none"/>
<rect x="895.7" y="390.5" width="6.8" height="24" fill="#fff"/>
<path d="M883.7 402 V431 M886.4 402 V431 M911.6 402 V431 M914.7 402 V431 M886.4 427 H911.6 M886.4 431 H911.6" stroke-width="1.1"/>
<path d="M868.3 429 H929.9" stroke-width="3"/>
<rect x="879.4" y="416" width="4.3" height="25.5" fill="#fff"/><rect x="914.7" y="416" width="4.1" height="25.5" fill="#fff"/>
<path d="M1015.5 364 H1022.8 Q1023.8 364 1023.8 365 L1024.2 380 Q1024 385.5 1019.2 385.5 Q1014.3 385.5 1014.3 380 L1014.6 365 Q1014.6 364 1015.5 364 Z" fill="#fff" stroke-width="1.4"/>
<path d="M1029 365.8 H1036 Q1037 365.8 1037 366.8 L1037.5 380 Q1037.3 385.5 1032.5 385.5 Q1027.6 385.5 1027.6 380 L1028 366.8 Q1028 365.8 1029 365.8 Z" fill="#fff" stroke-width="1.4"/>
<rect x="1007.5" y="385.5" width="37" height="25" rx="1.5" fill="#fff" stroke-width="1.6"/>
<rect x="1010" y="388.5" width="32" height="6.4" rx="1.5" fill="#fff" stroke-width="1.2"/>
<path d="M1017 389 V394.5 M1019.5 389 V394.5 M1031 389 V394.5 M1033.5 389 V394.5" stroke-width="1"/>
<rect x="1008.3" y="410.6" width="3.6" height="19.5" fill="#16181f"/><rect x="1040" y="410.6" width="3.6" height="19.5" fill="#16181f"/>
<rect x="1011.8" y="410.6" width="28.2" height="25" fill="#fff" stroke-width="1.6"/>
<rect x="1015.7" y="412.2" width="20.5" height="13.5" rx="1.5" fill="#fff" stroke-width="1.3"/>
<rect x="1018.9" y="418" width="13.8" height="4.2" rx="1" fill="#aaa" stroke-width="1.2"/>
</g>
<rect x="812.50" y="356.25" width="20.75" height="20.75" fill="#000" />
<polygon points="15.1,39.9 56.7,15.1 56.7,21.7 20.8,43.1 20.8,45.3 15.1,45.3" fill="#111"/>
<polygon points="56.7,15.1 87,32.2 87,45.3 81.3,45.3 81.3,35.7 56.7,21.7" fill="#d61c62"/>
<polygon points="41.4,24.8 67,39.9 67,45.3 61.9,45.3 61.9,43.1 41.4,31.1" fill="#d61c62"/>
<path d="M93 30.5 H108 L93.3 44.2 H108.6" fill="none" stroke="#d61c62" stroke-width="2.1"/>
<g fill="none" stroke="#111" stroke-width="2">
<path d="M126 30.4 H112 V37 H125.3 V44.2 H111"/>
<rect x="130.6" y="30.4" width="14.2" height="13.8" rx="1"/>
<rect x="149.6" y="30.4" width="14.4" height="13.8" rx="1"/>
</g>
</svg>
</body></html>
